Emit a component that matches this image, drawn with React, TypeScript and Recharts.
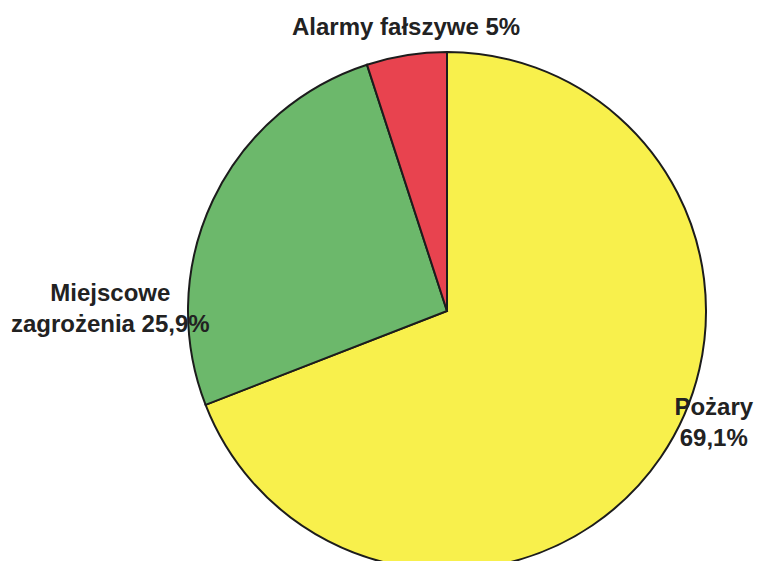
import React from "react";
import { PieChart, Pie, Cell } from "recharts";

// categories, values and label lines
const categories = ["Pożary", "Miejscowe zagrożenia", "Alarmy fałszywe"];
const shares = [69.1, 25.9, 5];
const sliceColors = ["#f8f04c", "#6cb86b", "#e8434f"];
const labelLines = [
    ["Pożary", "69,1%"],
    ["Miejscowe", "zagrożenia 25,9%"],
    ["Alarmy fałszywe 5%"],
];

const data = categories.map((name, i) => ({ name, value: shares[i] }));

// label anchor per slice, in units of the pie radius, relative to the centre
const labelAnchor = [
    { dx: 1.03, dy: 0.4 },
    { dx: -1.3, dy: -0.04 },
    { dx: -0.158, dy: -1.066 },
];

const renderLabel = (props: any) => {
    const { cx, cy, outerRadius, index } = props;
    const a = labelAnchor[index];
    const x = cx + a.dx * outerRadius;
    const y = cy + a.dy * outerRadius;
    return (
        <text
            x={x}
            y={y}
            textAnchor="middle"
            fill="#222"
            fontFamily="'Liberation Sans', Arial, sans-serif"
            fontWeight="bold"
            fontSize={24}
        >
            {labelLines[index].map((line, i) => (
                <tspan key={i} x={x} dy={i === 0 ? 0 : 31}>
                    {line}
                </tspan>
            ))}
        </text>
    );
};

const App: React.FC = () => {
    return (
        <div style={{ width: 758, height: 561, background: "#fff" }}>
            <style>{`body { margin: 0; }`}</style>
            <PieChart width={758} height={561} margin={{ top: 0, right: 0, bottom: 0, left: 0 }}>
                <Pie
                    data={data}
                    dataKey="value"
                    nameKey="name"
                    cx={447}
                    cy={311}
                    outerRadius={259}
                    startAngle={90}
                    endAngle={-270}
                    stroke="#1c1c1c"
                    strokeWidth={2}
                    label={renderLabel}
                    labelLine={false}
                    isAnimationActive={false}
                >
                    {data.map((d, i) => (
                        <Cell key={d.name} fill={sliceColors[i]} />
                    ))}
                </Pie>
            </PieChart>
        </div>
    );
};

export default App;
